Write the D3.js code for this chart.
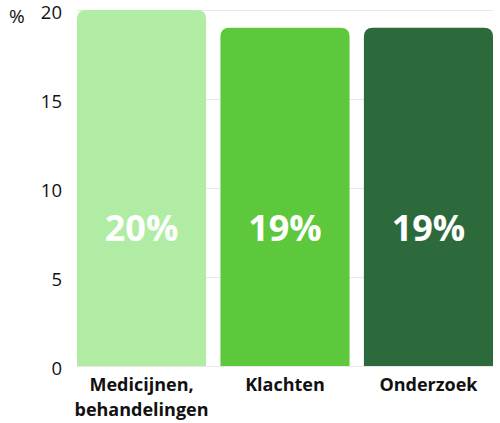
<!DOCTYPE html>
<html>
<head>
<meta charset="utf-8">
<script src="https://cdn.jsdelivr.net/npm/d3@7"></script>
<style>
  body { margin: 0; background: #fff; }
  text { font-family: "Open Sans", "DejaVu Sans", sans-serif; }
</style>
</head>
<body>
<div id="chart"></div>
<script>
const categories = [['Medicijnen,', 'behandelingen'], ['Klachten'], ['Onderzoek']]
const values = [20, 19, 19]
const colors = ['#b0eca3', '#5ec83c', '#2c6a3b']
const yTicks = [0, 5, 10, 15, 20]

const width = 500
const height = 423
const padding = { left: 77, right: 7, top: 10, bottom: 57 }

const svg = d3.select('#chart')
  .append('svg')
  .attr('width', width)
  .attr('height', height)

const xScale = d3.scaleBand()
  .domain(d3.range(values.length))
  .range([padding.left, width - padding.right])
  .paddingInner(0.1)

const yScale = d3.scaleLinear()
  .domain([0, 20])
  .range([height - padding.bottom, padding.top])

// grid lines
svg.append('g')
  .selectAll('line')
  .data(yTicks)
  .enter()
  .append('line')
  .attr('x1', padding.left)
  .attr('x2', width - padding.right)
  .attr('y1', d => yScale(d) + 0.5)
  .attr('y2', d => yScale(d) + 0.5)
  .attr('stroke', '#e8e8e8')
  .attr('stroke-width', 1)

// y axis labels
const yAxis = d3.axisLeft(yScale).tickValues(yTicks).tickSize(0).tickPadding(15)
svg.append('g')
  .attr('transform', `translate(${padding.left}, 0)`)
  .call(yAxis)
  .call(g => g.select('.domain').remove())
  .selectAll('text')
  .attr('dy', '0.45em')
  .attr('font-size', 18.5)
  .attr('fill', '#111')
  .attr('font-family', '"Open Sans", sans-serif')

svg.append('text')
  .attr('x', 9)
  .attr('y', yScale(20) + 13)
  .attr('font-size', 19)
  .attr('fill', '#111')
  .text('%')

// bars with rounded top corners
const r = 9
const barPath = (x, y, w, h) => {
  return `M${x},${y + h}V${y + r}Q${x},${y} ${x + r},${y}H${x + w - r}Q${x + w},${y} ${x + w},${y + r}V${y + h}Z`
}

svg.selectAll('path.bar')
  .data(values)
  .enter()
  .append('path')
  .attr('class', 'bar')
  .attr('d', (d, i) => barPath(xScale(i), yScale(d), xScale.bandwidth(), yScale(0) - yScale(d)))
  .attr('fill', (d, i) => colors[i])

// value labels
svg.selectAll('text.val')
  .data(values)
  .enter()
  .append('text')
  .attr('class', 'val')
  .attr('x', (d, i) => xScale(i) + xScale.bandwidth() / 2)
  .attr('y', yScale(7.0))
  .attr('text-anchor', 'middle')
  .attr('font-size', 36)
  .attr('font-weight', 'bold')
  .attr('fill', '#fff')
  .text(d => d + '%')

// category labels
const cats = svg.selectAll('text.cat')
  .data(categories)
  .enter()
  .append('text')
  .attr('class', 'cat')
  .attr('text-anchor', 'middle')
  .attr('font-size', 18)
  .attr('font-weight', 'bold')
  .attr('fill', '#111')

cats.selectAll('tspan')
  .data((d, i) => d.map(t => ({ t, i })))
  .enter()
  .append('tspan')
  .attr('x', d => xScale(d.i) + xScale.bandwidth() / 2)
  .attr('y', (d, j) => yScale(0) + 25 + j * 25)
  .text(d => d.t)
</script>
</body>
</html>
